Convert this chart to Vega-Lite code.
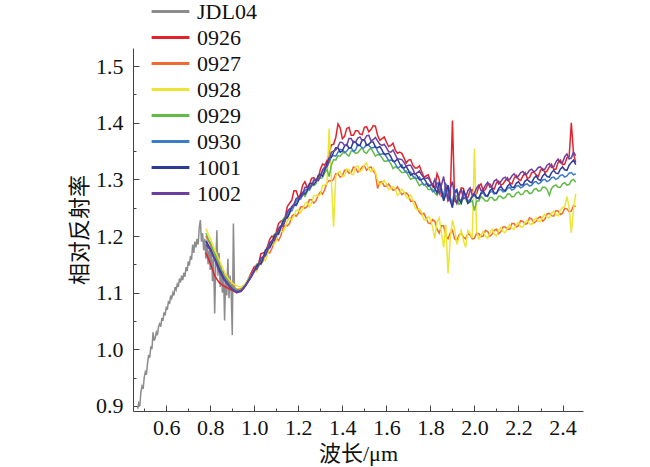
{
"$schema":"https://vega.github.io/schema/vega-lite/v6.json",
"autosize":{"type":"none"},
"padding":{"left":133,"top":48,"right":67,"bottom":56},
"width":450,"height":363,
"background":"white",
"config":{"view":{"stroke":null},"font":"Liberation Serif"},
"data":{"values":[
{"x":0.470,"JDL04":0.895},{"x":0.475,"JDL04":0.905},{"x":0.480,"JDL04":0.900},{"x":0.485,"JDL04":0.925},{"x":0.490,"JDL04":0.935},{"x":0.495,"JDL04":0.930},{"x":0.500,"JDL04":0.950},{"x":0.505,"JDL04":0.960},{"x":0.510,"JDL04":0.955},{"x":0.515,"JDL04":0.975},{"x":0.520,"JDL04":0.990},{"x":0.525,"JDL04":0.985},{"x":0.530,"JDL04":1.005},{"x":0.535,"JDL04":1.000},{"x":0.540,"JDL04":1.030},{"x":0.545,"JDL04":1.015},{"x":0.550,"JDL04":1.020},{"x":0.555,"JDL04":1.030},{"x":0.560,"JDL04":1.025},{"x":0.565,"JDL04":1.040},{"x":0.570,"JDL04":1.045},{"x":0.575,"JDL04":1.040},{"x":0.580,"JDL04":1.055},{"x":0.585,"JDL04":1.050},{"x":0.590,"JDL04":1.065},{"x":0.595,"JDL04":1.060},{"x":0.600,"JDL04":1.075},{"x":0.605,"JDL04":1.070},{"x":0.610,"JDL04":1.085},{"x":0.615,"JDL04":1.080},{"x":0.620,"JDL04":1.095},{"x":0.625,"JDL04":1.090},{"x":0.630,"JDL04":1.100},{"x":0.635,"JDL04":1.095},{"x":0.640,"JDL04":1.110},{"x":0.645,"JDL04":1.105},{"x":0.650,"JDL04":1.115},{"x":0.655,"JDL04":1.110},{"x":0.660,"JDL04":1.125},{"x":0.665,"JDL04":1.118},{"x":0.670,"JDL04":1.130},{"x":0.675,"JDL04":1.122},{"x":0.680,"JDL04":1.135},{"x":0.685,"JDL04":1.128},{"x":0.690,"JDL04":1.145},{"x":0.695,"JDL04":1.138},{"x":0.700,"JDL04":1.155},{"x":0.705,"JDL04":1.148},{"x":0.710,"JDL04":1.165},{"x":0.715,"JDL04":1.158},{"x":0.720,"JDL04":1.185},{"x":0.725,"JDL04":1.170},{"x":0.730,"JDL04":1.190},{"x":0.735,"JDL04":1.180},{"x":0.740,"JDL04":1.195},{"x":0.745,"JDL04":1.185},{"x":0.750,"JDL04":1.215},{"x":0.755,"JDL04":1.228},{"x":0.760,"JDL04":1.190},{"x":0.765,"JDL04":1.205},{"x":0.770,"JDL04":1.175},{"x":0.775,"JDL04":1.195},{"x":0.780,"JDL04":1.160},{"x":0.785,"JDL04":1.190},{"x":0.790,"JDL04":1.150},{"x":0.795,"JDL04":1.175},{"x":0.800,"JDL04":1.140},{"x":0.805,"JDL04":1.185},{"x":0.810,"JDL04":1.120},{"x":0.815,"JDL04":1.160},{"x":0.820,"JDL04":1.063},{"x":0.825,"JDL04":1.150},{"x":0.830,"JDL04":1.210},{"x":0.835,"JDL04":1.130},{"x":0.840,"JDL04":1.170},{"x":0.845,"JDL04":1.110},{"x":0.850,"JDL04":1.150},{"x":0.855,"JDL04":1.100},{"x":0.860,"JDL04":1.140},{"x":0.865,"JDL04":1.051},{"x":0.870,"JDL04":1.130},{"x":0.875,"JDL04":1.095},{"x":0.880,"JDL04":1.160},{"x":0.885,"JDL04":1.090},{"x":0.890,"JDL04":1.130},{"x":0.895,"JDL04":1.100},{"x":0.900,"JDL04":1.025},{"x":0.905,"JDL04":1.222},{"x":0.910,"JDL04":1.110},{"x":0.915,"JDL04":1.104},
{"x":0.78,"0926":1.170,"0927":1.200,"0928":1.213,"0929":1.205,"0930":1.190,"1001":1.192,"1002":1.185},
{"x":0.80,"0926":1.152,"0927":1.185,"0928":1.196,"0929":1.188,"0930":1.176,"1001":1.178,"1002":1.175},
{"x":0.82,"0926":1.130,"0927":1.168,"0928":1.176,"0929":1.168,"0930":1.160,"1001":1.160,"1002":1.158},
{"x":0.84,"0926":1.118,"0927":1.150,"0928":1.158,"0929":1.148,"0930":1.144,"1001":1.142,"1002":1.138},
{"x":0.86,"0926":1.112,"0927":1.133,"0928":1.140,"0929":1.131,"0930":1.128,"1001":1.126,"1002":1.124},
{"x":0.88,"0926":1.108,"0927":1.120,"0928":1.126,"0929":1.119,"0930":1.117,"1001":1.115,"1002":1.114},
{"x":0.90,"0926":1.104,"0927":1.112,"0928":1.117,"0929":1.110,"0930":1.108,"1001":1.106,"1002":1.106},
{"x":0.92,"0926":1.100,"0927":1.106,"0928":1.112,"0929":1.104,"0930":1.103,"1001":1.101,"1002":1.100},
{"x":0.94,"0926":1.105,"0927":1.107,"0928":1.110,"0929":1.105,"0930":1.104,"1001":1.103,"1002":1.102},
{"x":0.96,"0926":1.115,"0927":1.114,"0928":1.116,"0929":1.113,"0930":1.114,"1001":1.112,"1002":1.112},
{"x":0.98,"0926":1.130,"0927":1.124,"0928":1.128,"0929":1.127,"0930":1.126,"1001":1.125,"1002":1.124},
{"x":1.00,"0926":1.146,"0927":1.137,"0928":1.139,"0929":1.139,"0930":1.141,"1001":1.138,"1002":1.140},
{"x":1.02,"0926":1.152,"0927":1.150,"0928":1.146,"0929":1.152,"0930":1.149,"1001":1.151,"1002":1.148},
{"x":1.04,"0926":1.170,"0927":1.156,"0928":1.160,"0929":1.161,"0930":1.164,"1001":1.160,"1002":1.163},
{"x":1.06,"0926":1.182,"0927":1.172,"0928":1.168,"0929":1.178,"0930":1.175,"1001":1.178,"1002":1.175},
{"x":1.08,"0926":1.200,"0927":1.178,"0928":1.185,"0929":1.188,"0930":1.191,"1001":1.187,"1002":1.192},
{"x":1.10,"0926":1.208,"0927":1.196,"0928":1.192,"0929":1.206,"0930":1.200,"1001":1.204,"1002":1.201},
{"x":1.12,"0926":1.226,"0927":1.200,"0928":1.210,"0929":1.214,"0930":1.217,"1001":1.214,"1002":1.218},
{"x":1.14,"0926":1.233,"0927":1.219,"0928":1.214,"0929":1.234,"0930":1.226,"1001":1.232,"1002":1.228},
{"x":1.16,"0926":1.258,"0927":1.222,"0928":1.232,"0929":1.242,"0930":1.244,"1001":1.240,"1002":1.248},
{"x":1.18,"0926":1.280,"0927":1.238,"0928":1.235,"0929":1.254,"0930":1.252,"1001":1.256,"1002":1.256},
{"x":1.20,"0926":1.268,"0927":1.240,"0928":1.246,"0929":1.262,"0930":1.266,"1001":1.262,"1002":1.268},
{"x":1.22,"0926":1.290,"0927":1.252,"0928":1.248,"0929":1.274,"0930":1.272,"1001":1.277,"1002":1.274},
{"x":1.24,"0926":1.286,"0927":1.252,"0928":1.260,"0929":1.278,"0930":1.283,"1001":1.280,"1002":1.286},
{"x":1.26,"0926":1.302,"0927":1.264,"0928":1.258,"0929":1.290,"0930":1.288,"1001":1.293,"1002":1.290},
{"x":1.28,"0926":1.298,"0927":1.262,"0928":1.272,"0929":1.292,"0930":1.299,"1001":1.296,"1002":1.300},
{"x":1.30,"0926":1.318,"0927":1.278,"0928":1.274,"0929":1.302,"0930":1.304,"1001":1.309,"1002":1.306},
{"x":1.32,"0926":1.325,"0927":1.282,"0928":1.290,"0929":1.312,"0930":1.318,"1001":1.316,"1002":1.322},
{"x":1.34,"0926":1.345,"0927":1.298,"0928":1.390,"0929":1.305,"0930":1.330,"1001":1.338,"1002":1.335},
{"x":1.36,"0926":1.362,"0927":1.300,"0928":1.216,"0929":1.335,"0930":1.342,"1001":1.348,"1002":1.350},
{"x":1.38,"0926":1.398,"0927":1.310,"0928":1.312,"0929":1.342,"0930":1.348,"1001":1.356,"1002":1.358},
{"x":1.40,"0926":1.372,"0927":1.306,"0928":1.305,"0929":1.346,"0930":1.352,"1001":1.350,"1002":1.365},
{"x":1.42,"0926":1.390,"0927":1.316,"0928":1.318,"0929":1.344,"0930":1.350,"1001":1.362,"1002":1.360},
{"x":1.44,"0926":1.378,"0927":1.312,"0928":1.310,"0929":1.350,"0930":1.356,"1001":1.356,"1002":1.372},
{"x":1.46,"0926":1.386,"0927":1.320,"0928":1.322,"0929":1.346,"0930":1.352,"1001":1.366,"1002":1.366},
{"x":1.48,"0926":1.380,"0927":1.316,"0928":1.314,"0929":1.352,"0930":1.360,"1001":1.360,"1002":1.375},
{"x":1.50,"0926":1.392,"0927":1.324,"0928":1.326,"0929":1.348,"0930":1.356,"1001":1.370,"1002":1.370},
{"x":1.52,"0926":1.384,"0927":1.320,"0928":1.318,"0929":1.352,"0930":1.360,"1001":1.362,"1002":1.378},
{"x":1.54,"0926":1.395,"0927":1.315,"0928":1.320,"0929":1.348,"0930":1.356,"1001":1.366,"1002":1.370},
{"x":1.56,"0926":1.378,"0927":1.284,"0928":1.298,"0929":1.344,"0930":1.350,"1001":1.356,"1002":1.368},
{"x":1.58,"0926":1.372,"0927":1.296,"0928":1.294,"0929":1.338,"0930":1.345,"1001":1.352,"1002":1.360},
{"x":1.60,"0926":1.366,"0927":1.288,"0928":1.292,"0929":1.332,"0930":1.340,"1001":1.345,"1002":1.356},
{"x":1.62,"0926":1.360,"0927":1.286,"0928":1.284,"0929":1.328,"0930":1.334,"1001":1.340,"1002":1.348},
{"x":1.64,"0926":1.352,"0927":1.282,"0928":1.284,"0929":1.322,"0930":1.328,"1001":1.332,"1002":1.344},
{"x":1.66,"0926":1.348,"0927":1.280,"0928":1.276,"0929":1.316,"0930":1.322,"1001":1.328,"1002":1.336},
{"x":1.68,"0926":1.338,"0927":1.276,"0928":1.278,"0929":1.312,"0930":1.317,"1001":1.320,"1002":1.330},
{"x":1.70,"0926":1.334,"0927":1.272,"0928":1.266,"0929":1.306,"0930":1.312,"1001":1.316,"1002":1.325},
{"x":1.72,"0926":1.325,"0927":1.262,"0928":1.264,"0929":1.302,"0930":1.306,"1001":1.310,"1002":1.318},
{"x":1.74,"0926":1.320,"0927":1.250,"0928":1.246,"0929":1.296,"0930":1.302,"1001":1.306,"1002":1.312},
{"x":1.76,"0926":1.314,"0927":1.238,"0928":1.242,"0929":1.292,"0930":1.296,"1001":1.300,"1002":1.308},
{"x":1.78,"0926":1.306,"0927":1.232,"0928":1.228,"0929":1.288,"0930":1.292,"1001":1.296,"1002":1.302},
{"x":1.80,"0926":1.298,"0927":1.222,"0928":1.230,"0929":1.282,"0930":1.286,"1001":1.290,"1002":1.296},
{"x":1.82,"0926":1.285,"0927":1.226,"0928":1.196,"0929":1.276,"0930":1.280,"1001":1.284,"1002":1.300},
{"x":1.84,"0926":1.300,"0927":1.205,"0928":1.232,"0929":1.284,"0930":1.290,"1001":1.296,"1002":1.275},
{"x":1.86,"0926":1.272,"0927":1.218,"0928":1.180,"0929":1.264,"0930":1.268,"1001":1.262,"1002":1.305},
{"x":1.88,"0926":1.262,"0927":1.195,"0928":1.134,"0929":1.278,"0930":1.285,"1001":1.290,"1002":1.262},
{"x":1.90,"0926":1.404,"0927":1.210,"0928":1.228,"0929":1.255,"0930":1.258,"1001":1.250,"1002":1.296},
{"x":1.92,"0926":1.258,"0927":1.192,"0928":1.185,"0929":1.270,"0930":1.278,"1001":1.282,"1002":1.258},
{"x":1.94,"0926":1.285,"0927":1.205,"0928":1.210,"0929":1.258,"0930":1.262,"1001":1.258,"1002":1.282},
{"x":1.96,"0926":1.268,"0927":1.195,"0928":1.180,"0929":1.265,"0930":1.270,"1001":1.272,"1002":1.268},
{"x":1.98,"0926":1.280,"0927":1.202,"0928":1.205,"0929":1.260,"0930":1.264,"1001":1.262,"1002":1.285},
{"x":2.00,"0926":1.272,"0927":1.196,"0928":1.354,"0929":1.245,"0930":1.272,"1001":1.275,"1002":1.276},
{"x":2.02,"0926":1.288,"0927":1.204,"0928":1.195,"0929":1.262,"0930":1.268,"1001":1.266,"1002":1.290},
{"x":2.04,"0926":1.280,"0927":1.200,"0928":1.208,"0929":1.266,"0930":1.276,"1001":1.280,"1002":1.282},
{"x":2.06,"0926":1.292,"0927":1.208,"0928":1.196,"0929":1.262,"0930":1.272,"1001":1.270,"1002":1.295},
{"x":2.08,"0926":1.285,"0927":1.203,"0928":1.212,"0929":1.268,"0930":1.279,"1001":1.284,"1002":1.288},
{"x":2.10,"0926":1.294,"0927":1.212,"0928":1.200,"0929":1.264,"0930":1.276,"1001":1.275,"1002":1.300},
{"x":2.12,"0926":1.290,"0927":1.208,"0928":1.215,"0929":1.270,"0930":1.282,"1001":1.288,"1002":1.296},
{"x":2.14,"0926":1.298,"0927":1.216,"0928":1.206,"0929":1.268,"0930":1.279,"1001":1.280,"1002":1.304},
{"x":2.16,"0926":1.294,"0927":1.212,"0928":1.220,"0929":1.274,"0930":1.286,"1001":1.292,"1002":1.300},
{"x":2.18,"0926":1.302,"0927":1.222,"0928":1.212,"0929":1.270,"0930":1.283,"1001":1.286,"1002":1.310},
{"x":2.20,"0926":1.300,"0927":1.218,"0928":1.224,"0929":1.278,"0930":1.289,"1001":1.296,"1002":1.306},
{"x":2.22,"0926":1.306,"0927":1.226,"0928":1.216,"0929":1.274,"0930":1.287,"1001":1.290,"1002":1.314},
{"x":2.24,"0926":1.302,"0927":1.222,"0928":1.228,"0929":1.280,"0930":1.292,"1001":1.300,"1002":1.310},
{"x":2.26,"0926":1.312,"0927":1.230,"0928":1.220,"0929":1.276,"0930":1.290,"1001":1.294,"1002":1.318},
{"x":2.28,"0926":1.308,"0927":1.226,"0928":1.232,"0929":1.284,"0930":1.296,"1001":1.306,"1002":1.316},
{"x":2.30,"0926":1.316,"0927":1.234,"0928":1.226,"0929":1.280,"0930":1.294,"1001":1.298,"1002":1.322},
{"x":2.32,"0926":1.312,"0927":1.230,"0928":1.238,"0929":1.286,"0930":1.300,"1001":1.310,"1002":1.318},
{"x":2.34,"0926":1.322,"0927":1.240,"0928":1.232,"0929":1.272,"0930":1.298,"1001":1.304,"1002":1.328},
{"x":2.36,"0926":1.318,"0927":1.235,"0928":1.244,"0929":1.288,"0930":1.304,"1001":1.316,"1002":1.322},
{"x":2.38,"0926":1.330,"0927":1.244,"0928":1.236,"0929":1.286,"0930":1.302,"1001":1.310,"1002":1.336},
{"x":2.40,"0926":1.326,"0927":1.240,"0928":1.250,"0929":1.292,"0930":1.308,"1001":1.322,"1002":1.330},
{"x":2.42,"0926":1.338,"0927":1.248,"0928":1.270,"0929":1.290,"0930":1.306,"1001":1.316,"1002":1.345},
{"x":2.44,"0926":1.400,"0927":1.244,"0928":1.206,"0929":1.298,"0930":1.312,"1001":1.330,"1002":1.338},
{"x":2.46,"0926":1.330,"0927":1.252,"0928":1.275,"0929":1.295,"0930":1.310,"1001":1.326,"1002":1.342},
{"x":0.79,"0926":1.161,"0927":1.192,"0928":1.204,"0929":1.196,"0930":1.183,"1001":1.185,"1002":1.180},
{"x":0.81,"0926":1.141,"0927":1.176,"0928":1.186,"0929":1.178,"0930":1.168,"1001":1.169,"1002":1.166},
{"x":0.83,"0926":1.124,"0927":1.159,"0928":1.167,"0929":1.158,"0930":1.152,"1001":1.151,"1002":1.148},
{"x":0.85,"0926":1.115,"0927":1.141,"0928":1.149,"0929":1.140,"0930":1.136,"1001":1.134,"1002":1.131},
{"x":0.87,"0926":1.110,"0927":1.126,"0928":1.133,"0929":1.125,"0930":1.122,"1001":1.120,"1002":1.119},
{"x":0.89,"0926":1.106,"0927":1.116,"0928":1.121,"0929":1.114,"0930":1.112,"1001":1.110,"1002":1.110},
{"x":0.91,"0926":1.102,"0927":1.109,"0928":1.114,"0929":1.107,"0930":1.105,"1001":1.103,"1002":1.103},
{"x":0.93,"0926":1.102,"0927":1.106,"0928":1.111,"0929":1.104,"0930":1.103,"1001":1.102,"1002":1.101},
{"x":0.95,"0926":1.110,"0927":1.110,"0928":1.113,"0929":1.109,"0930":1.109,"1001":1.107,"1002":1.107},
{"x":0.97,"0926":1.122,"0927":1.119,"0928":1.122,"0929":1.120,"0930":1.120,"1001":1.118,"1002":1.118},
{"x":0.99,"0926":1.138,"0927":1.130,"0928":1.133,"0929":1.133,"0930":1.133,"1001":1.131,"1002":1.132},
{"x":1.01,"0926":1.144,"0927":1.148,"0928":1.137,"0929":1.150,"0930":1.141,"1001":1.147,"1002":1.141},
{"x":1.03,"0926":1.169,"0927":1.150,"0928":1.156,"0929":1.150,"0930":1.158,"1001":1.151,"1002":1.162},
{"x":1.05,"0926":1.172,"0927":1.170,"0928":1.156,"0929":1.173,"0930":1.165,"1001":1.175,"1002":1.165},
{"x":1.07,"0926":1.194,"0927":1.170,"0928":1.182,"0929":1.181,"0930":1.189,"1001":1.179,"1002":1.186},
{"x":1.09,"0926":1.197,"0927":1.189,"0928":1.185,"0929":1.203,"0930":1.192,"1001":1.200,"1002":1.192},
{"x":1.11,"0926":1.222,"0927":1.192,"0928":1.208,"0929":1.206,"0930":1.212,"1001":1.203,"1002":1.213},
{"x":1.13,"0926":1.228,"0927":1.214,"0928":1.207,"0929":1.229,"0930":1.219,"1001":1.225,"1002":1.217},
{"x":1.15,"0926":1.252,"0927":1.218,"0928":1.227,"0929":1.233,"0930":1.240,"1001":1.232,"1002":1.243},
{"x":1.17,"0926":1.263,"0927":1.235,"0928":1.228,"0929":1.250,"0930":1.244,"1001":1.252,"1002":1.250},
{"x":1.19,"0926":1.280,"0927":1.235,"0928":1.245,"0929":1.255,"0930":1.262,"1001":1.254,"1002":1.266},
{"x":1.21,"0926":1.274,"0927":1.251,"0928":1.241,"0929":1.272,"0930":1.265,"1001":1.272,"1002":1.268},
{"x":1.23,"0926":1.296,"0927":1.249,"0928":1.257,"0929":1.270,"0930":1.280,"1001":1.274,"1002":1.286},
{"x":1.25,"0926":1.290,"0927":1.264,"0928":1.251,"0929":1.287,"0930":1.281,"1001":1.292,"1002":1.284},
{"x":1.27,"0926":1.303,"0927":1.258,"0928":1.271,"0929":1.289,"0930":1.300,"1001":1.291,"1002":1.297},
{"x":1.29,"0926":1.301,"0927":1.272,"0928":1.270,"0929":1.303,"0930":1.298,"1001":1.307,"1002":1.298},
{"x":1.31,"0926":1.327,"0927":1.274,"0928":1.289,"0929":1.303,"0930":1.315,"1001":1.306,"1002":1.317},
{"x":1.33,"0926":1.333,"0927":1.294,"0928":1.292,"0929":1.318,"0930":1.322,"1001":1.329,"1002":1.323},
{"x":1.35,"0926":1.361,"0927":1.297,"0928":1.300,"0929":1.325,"0930":1.341,"1001":1.339,"1002":1.348},
{"x":1.37,"0926":1.374,"0927":1.310,"0928":1.306,"0929":1.334,"0930":1.341,"1001":1.356,"1002":1.352},
{"x":1.39,"0926":1.391,"0927":1.304,"0928":1.314,"0929":1.341,"0930":1.353,"1001":1.348,"1002":1.366},
{"x":1.41,"0926":1.376,"0927":1.316,"0928":1.306,"0929":1.349,"0930":1.347,"1001":1.359,"1002":1.360},
{"x":1.43,"0926":1.392,"0927":1.311,"0928":1.317,"0929":1.341,"0930":1.355,"1001":1.355,"1002":1.372},
{"x":1.45,"0926":1.378,"0927":1.322,"0928":1.308,"0929":1.351,"0930":1.349,"1001":1.367,"1002":1.365},
{"x":1.47,"0926":1.386,"0927":1.313,"0928":1.324,"0929":1.347,"0930":1.362,"1001":1.360,"1002":1.373},
{"x":1.49,"0926":1.379,"0927":1.322,"0928":1.317,"0929":1.356,"0930":1.355,"1001":1.370,"1002":1.368},
{"x":1.51,"0926":1.393,"0927":1.316,"0928":1.329,"0929":1.346,"0930":1.362,"1001":1.360,"1002":1.377},
{"x":1.53,"0926":1.388,"0927":1.322,"0928":1.314,"0929":1.355,"0930":1.356,"1001":1.366,"1002":1.368},
{"x":1.55,"0926":1.394,"0927":1.310,"0928":1.313,"0929":1.341,"0930":1.358,"1001":1.357,"1002":1.374},
{"x":1.57,"0926":1.369,"0927":1.295,"0928":1.290,"0929":1.343,"0930":1.344,"1001":1.358,"1002":1.362},
{"x":1.59,"0926":1.375,"0927":1.288,"0928":1.298,"0929":1.332,"0930":1.346,"1001":1.344,"1002":1.362},
{"x":1.61,"0926":1.358,"0927":1.292,"0928":1.282,"0929":1.334,"0930":1.333,"1001":1.346,"1002":1.349},
{"x":1.63,"0926":1.364,"0927":1.281,"0928":1.287,"0929":1.319,"0930":1.333,"1001":1.332,"1002":1.352},
{"x":1.65,"0926":1.346,"0927":1.287,"0928":1.272,"0929":1.322,"0930":1.320,"1001":1.336,"1002":1.336},
{"x":1.67,"0926":1.346,"0927":1.273,"0928":1.283,"0929":1.312,"0930":1.326,"1001":1.321,"1002":1.335},
{"x":1.69,"0926":1.329,"0927":1.276,"0928":1.269,"0929":1.315,"0930":1.312,"1001":1.323,"1002":1.323},
{"x":1.71,"0926":1.335,"0927":1.261,"0928":1.272,"0929":1.300,"0930":1.313,"1001":1.307,"1002":1.325},
{"x":1.73,"0926":1.320,"0927":1.260,"0928":1.250,"0929":1.304,"0930":1.302,"1001":1.310,"1002":1.309},
{"x":1.75,"0926":1.324,"0927":1.242,"0928":1.248,"0929":1.289,"0930":1.304,"1001":1.299,"1002":1.315},
{"x":1.77,"0926":1.304,"0927":1.240,"0928":1.229,"0929":1.292,"0930":1.290,"1001":1.302,"1002":1.303},
{"x":1.79,"0926":1.308,"0927":1.223,"0928":1.234,"0929":1.282,"0930":1.292,"1001":1.288,"1002":1.303},
{"x":1.81,"0926":1.287,"0927":1.229,"0928":1.215,"0929":1.283,"0930":1.278,"1001":1.292,"1002":1.290},
{"x":1.83,"0926":1.310,"0927":1.212,"0928":1.225,"0929":1.272,"0930":1.294,"1001":1.276,"1002":1.286},
{"x":1.85,"0926":1.270,"0927":1.218,"0928":1.205,"0929":1.278,"0930":1.276,"1001":1.284,"1002":1.290},
{"x":1.87,"0926":1.290,"0927":1.200,"0928":1.220,"0929":1.282,"0930":1.292,"1001":1.274,"1002":1.280},
{"x":1.89,"0926":1.268,"0927":1.205,"0928":1.195,"0929":1.262,"0930":1.268,"1001":1.262,"1002":1.285},
{"x":1.91,"0926":1.262,"0927":1.195,"0928":1.212,"0929":1.272,"0930":1.282,"1001":1.276,"1002":1.270},
{"x":1.93,"0926":1.270,"0927":1.202,"0928":1.198,"0929":1.256,"0930":1.266,"1001":1.264,"1002":1.276},
{"x":1.95,"0926":1.284,"0927":1.198,"0928":1.192,"0929":1.268,"0930":1.274,"1001":1.280,"1002":1.266},
{"x":1.97,"0926":1.268,"0927":1.204,"0928":1.210,"0929":1.258,"0930":1.262,"1001":1.258,"1002":1.280},
{"x":1.99,"0926":1.282,"0927":1.195,"0928":1.196,"0929":1.262,"0930":1.270,"1001":1.270,"1002":1.272},
{"x":2.01,"0926":1.275,"0927":1.205,"0928":1.208,"0929":1.262,"0930":1.266,"1001":1.268,"1002":1.285},
{"x":2.03,"0926":1.292,"0927":1.199,"0928":1.202,"0929":1.270,"0930":1.275,"1001":1.276,"1002":1.280},
{"x":2.05,"0926":1.282,"0927":1.210,"0928":1.200,"0929":1.262,"0930":1.270,"1001":1.272,"1002":1.290},
{"x":2.07,"0926":1.292,"0927":1.200,"0928":1.206,"0929":1.268,"0930":1.277,"1001":1.280,"1002":1.286},
{"x":2.09,"0926":1.283,"0927":1.210,"0928":1.204,"0929":1.263,"0930":1.274,"1001":1.276,"1002":1.297},
{"x":2.11,"0926":1.297,"0927":1.204,"0928":1.210,"0929":1.270,"0930":1.281,"1001":1.284,"1002":1.292},
{"x":2.13,"0926":1.292,"0927":1.216,"0928":1.208,"0929":1.266,"0930":1.278,"1001":1.282,"1002":1.302},
{"x":2.15,"0926":1.303,"0927":1.212,"0928":1.214,"0929":1.274,"0930":1.284,"1001":1.288,"1002":1.298},
{"x":2.17,"0926":1.292,"0927":1.222,"0928":1.214,"0929":1.269,"0930":1.281,"1001":1.286,"1002":1.306},
{"x":2.19,"0926":1.307,"0927":1.216,"0928":1.220,"0929":1.276,"0930":1.288,"1001":1.293,"1002":1.303},
{"x":2.21,"0926":1.298,"0927":1.227,"0928":1.216,"0929":1.273,"0930":1.285,"1001":1.290,"1002":1.312},
{"x":2.23,"0926":1.312,"0927":1.221,"0928":1.224,"0929":1.280,"0930":1.291,"1001":1.297,"1002":1.308},
{"x":2.25,"0926":1.303,"0927":1.232,"0928":1.222,"0929":1.275,"0930":1.288,"1001":1.296,"1002":1.316},
{"x":2.27,"0926":1.313,"0927":1.223,"0928":1.228,"0929":1.282,"0930":1.295,"1001":1.302,"1002":1.313},
{"x":2.29,"0926":1.305,"0927":1.232,"0928":1.226,"0929":1.279,"0930":1.292,"1001":1.300,"1002":1.321},
{"x":2.31,"0926":1.319,"0927":1.226,"0928":1.234,"0929":1.286,"0930":1.299,"1001":1.306,"1002":1.316},
{"x":2.33,"0926":1.315,"0927":1.239,"0928":1.233,"0929":1.282,"0930":1.296,"1001":1.305,"1002":1.325},
{"x":2.35,"0926":1.327,"0927":1.236,"0928":1.240,"0929":1.284,"0930":1.303,"1001":1.312,"1002":1.321},
{"x":2.37,"0926":1.318,"0927":1.245,"0928":1.238,"0929":1.290,"0930":1.300,"1001":1.311,"1002":1.331},
{"x":2.39,"0926":1.334,"0927":1.238,"0928":1.245,"0929":1.286,"0930":1.307,"1001":1.318,"1002":1.329},
{"x":2.41,"0926":1.327,"0927":1.249,"0928":1.252,"0929":1.294,"0930":1.304,"1001":1.317,"1002":1.340},
{"x":2.43,"0926":1.340,"0927":1.243,"0928":1.250,"0929":1.291,"0930":1.311,"1001":1.325,"1002":1.336},
{"x":2.45,"0926":1.345,"0927":1.254,"0928":1.248,"0929":1.300,"0930":1.308,"1001":1.334,"1002":1.348}
]},
"transform":[
{"fold":["JDL04","0926","0927","0928","0929","0930","1001","1002"],"as":["series","value"]},
{"filter":"isValid(datum.value)"}
],
"mark":{"type":"line","strokeWidth":1.5,"clip":true},
"encoding":{
"x":{"field":"x","type":"quantitative","scale":{"domain":[0.449,2.493],"nice":false,"zero":false},
 "axis":{"values":[0.5,0.6,0.7,0.8,0.9,1.0,1.1,1.2,1.3,1.4,1.5,1.6,1.7,1.8,1.9,2.0,2.1,2.2,2.3,2.4],
 "labelExpr":"round(datum.value*10) % 2 == 0 ? format(datum.value,'.1f') : ''",
 "tickSize":{"condition":{"test":"round(datum.value*10) % 2 == 0","value":-6},"value":-3},
 "labelPadding":12,"labelFontSize":22,"labelFont":"Liberation Serif","labelColor":"#111","labelOverlap":false,"labelFlush":false,
 "domainColor":"#444","tickColor":"#444","grid":false,
 "title":"波长/μm","titleFont":"Liberation Serif, Noto Sans CJK SC","titleFontSize":22,"titleFontWeight":"normal","titleColor":"#111","titlePadding":2}},
"y":{"field":"value","type":"quantitative","scale":{"domain":[0.891,1.532],"nice":false,"zero":false},
 "axis":{"values":[0.9,0.95,1.0,1.05,1.1,1.15,1.2,1.25,1.3,1.35,1.4,1.45,1.5],
 "labelExpr":"round(datum.value*20) % 2 == 0 ? format(datum.value,'.1f') : ''",
 "tickSize":{"condition":{"test":"round(datum.value*20) % 2 == 0","value":-6},"value":-3},
 "labelPadding":16,"labelFontSize":22,"labelFont":"Liberation Serif","labelColor":"#111","labelOverlap":false,"labelFlush":false,
 "domainColor":"#444","tickColor":"#444","grid":false,
 "title":"相对反射率","titleFont":"Liberation Serif, Noto Sans CJK SC","titleFontSize":22,"titleFontWeight":"normal","titleColor":"#111","titlePadding":4}},
"color":{"field":"series","type":"nominal",
 "scale":{"domain":["JDL04","0926","0927","0928","0929","0930","1001","1002"],"range":["#8c8c8f","#e3232c","#ee6a30","#ede534","#62bb46","#3d7cc9","#2e3a97","#6b3fa0"]},
 "legend":{"orient":"none","legendX":22.5,"legendY":-51.5,"title":null,"symbolType":"M-1.4,0L1.4,0","symbolSize":729,"symbolStrokeWidth":3,"labelFontSize":22,"labelFont":"Liberation Serif","labelColor":"#111","labelOffset":11.5,"rowPadding":0,"padding":0,"labelLimit":200}}
}
}
